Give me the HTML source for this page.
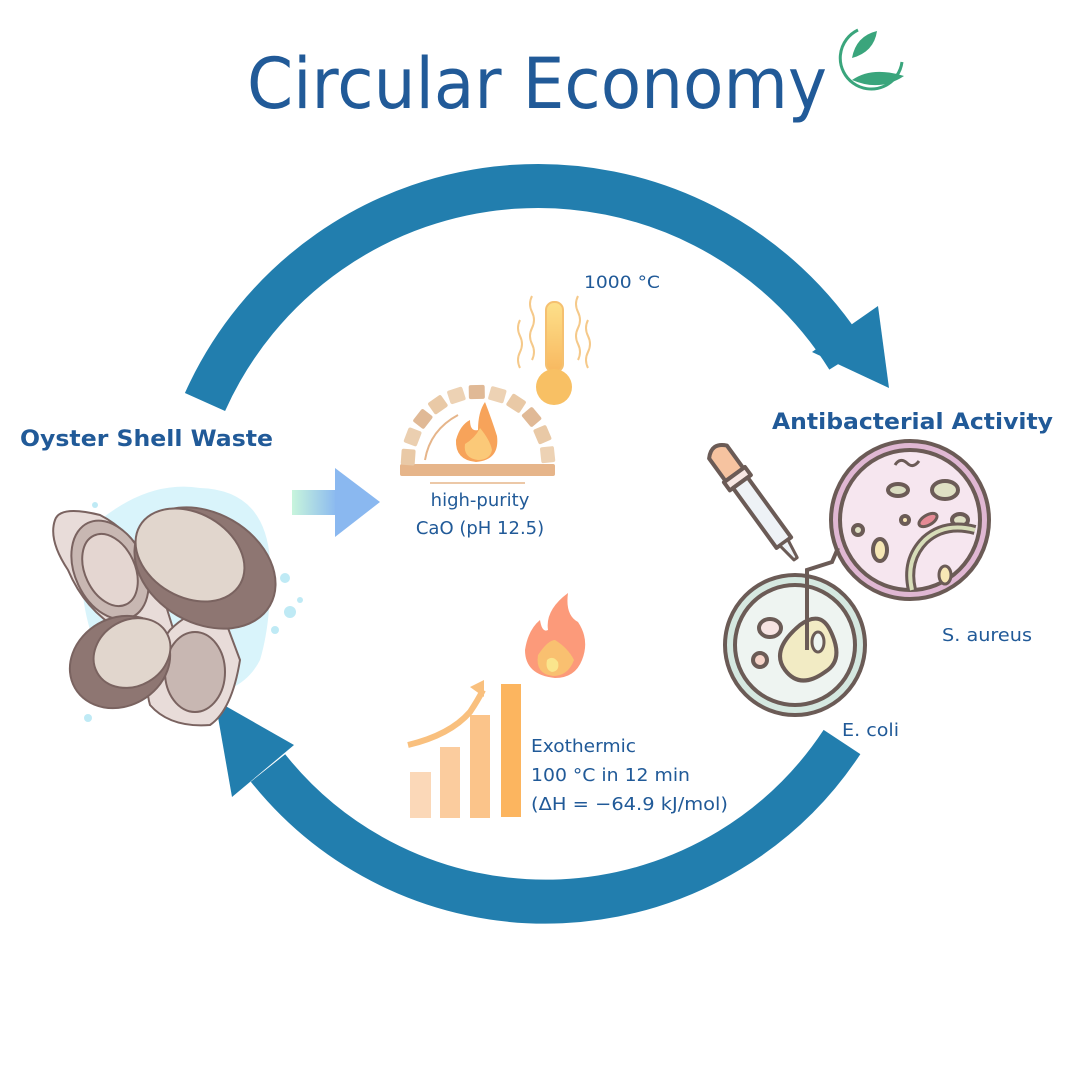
<!DOCTYPE html>
<html><head><meta charset="utf-8"><style>html,body{margin:0;padding:0;background:#fff}svg{display:block}text{font-family:"DejaVu Sans","Liberation Sans",sans-serif}</style></head>
<body>
<svg width="1080" height="1080" viewBox="0 0 1080 1080" xmlns="http://www.w3.org/2000/svg">
<defs>
<linearGradient id="ga" x1="0" x2="1"><stop offset="0" stop-color="#c8f5dc"/><stop offset="1" stop-color="#8ab8f0"/></linearGradient>
<linearGradient id="gt" x1="0" y1="0" x2="0" y2="1"><stop offset="0" stop-color="#fde08a"/><stop offset="1" stop-color="#f8b860"/></linearGradient>
</defs>
<rect width="1080" height="1080" fill="#fff"/>
<text x="537" y="108" font-size="70" fill="#215a98" text-anchor="middle" textLength="580" lengthAdjust="spacingAndGlyphs">Circular Economy</text>
<path d="M858 30 A31 31 0 1 0 902 62" fill="none" stroke="#3aa57c" stroke-width="3"/>
<path d="M852 58 Q856 36 877 31 Q874 52 852 58Z" fill="#3aa57c"/>
<path d="M852 80 Q872 66 904 76 Q880 92 852 80Z" fill="#3aa57c"/>
<g fill="none" stroke="#227eae" stroke-width="44">
<path d="M205 402 A365 365 0 0 1 848 358"/>
<path d="M842 742 A355 355 0 0 1 268 768"/>
</g>
<polygon points="889,388 812,352 878,306" fill="#227eae"/>
<polygon points="215,700 232,797 294,745" fill="#227eae"/>
<text x="20" y="446" font-size="22" font-weight="bold" fill="#215a98" textLength="253" lengthAdjust="spacingAndGlyphs">Oyster Shell Waste</text>
<text x="772" y="429" font-size="22" font-weight="bold" fill="#215a98" textLength="281" lengthAdjust="spacingAndGlyphs">Antibacterial Activity</text>
<path d="M100 520 Q150 480 200 488 Q265 490 270 560 Q272 620 260 660 Q240 700 180 695 Q110 690 90 630 Q70 560 100 520Z" fill="#d9f4fb"/>
<g stroke="#7a6360" stroke-width="2">
<path d="M55 520 Q60 505 100 515 Q130 530 155 570 L175 635 Q150 650 120 630 Q85 610 68 570 Q48 540 55 520Z" fill="#e8dcd9"/>
<ellipse cx="110" cy="570" rx="35" ry="52" transform="rotate(-25 110 570)" fill="#c8b7b2"/>
<ellipse cx="110" cy="570" rx="25" ry="38" transform="rotate(-25 110 570)" fill="#e4d6d1"/>
<path d="M170 630 Q200 600 225 620 L240 660 Q232 710 210 725 Q170 728 150 705 Q140 670 170 630Z" fill="#e8dcd9"/>
<ellipse cx="195" cy="672" rx="30" ry="40" fill="#c8b7b2"/>
<ellipse cx="205" cy="568" rx="75" ry="55" transform="rotate(30 205 568)" fill="#8e7672"/>
<ellipse cx="190" cy="555" rx="58" ry="42" transform="rotate(30 190 555)" fill="#e1d6cd"/>
<ellipse cx="120" cy="662" rx="52" ry="44" transform="rotate(-30 120 662)" fill="#8e7672"/>
<ellipse cx="132" cy="653" rx="40" ry="33" transform="rotate(-30 132 653)" fill="#e1d6cd"/>
</g>
<g fill="#bfeaf5"><circle cx="285" cy="578" r="5"/><circle cx="290" cy="612" r="6"/><circle cx="300" cy="600" r="3"/><circle cx="95" cy="505" r="3"/><circle cx="88" cy="718" r="4"/><circle cx="275" cy="630" r="4"/></g>
<rect x="292" y="490" width="45" height="25" fill="url(#ga)"/>
<polygon points="335,468 380,502 335,537" fill="#8ab8f0"/>
<rect x="400" y="464" width="155" height="12" rx="2" fill="#e6b58a"/>
<g transform="translate(478,462)">
<g fill="#e9c9a6">
<rect x="-8" y="-77" width="16" height="14" rx="2" transform="rotate(-86)"/>
<rect x="-8" y="-77" width="16" height="14" rx="2" transform="rotate(-69)" fill="#ebcfb0"/>
<rect x="-8" y="-77" width="16" height="14" rx="2" transform="rotate(-52)" fill="#e0b996"/>
<rect x="-8" y="-77" width="16" height="14" rx="2" transform="rotate(-35)"/>
<rect x="-8" y="-77" width="16" height="14" rx="2" transform="rotate(-18)" fill="#edd2b4"/>
<rect x="-8" y="-77" width="16" height="14" rx="2" transform="rotate(-1)" fill="#e0b996"/>
<rect x="-8" y="-77" width="16" height="14" rx="2" transform="rotate(16)" fill="#edd2b4"/>
<rect x="-8" y="-77" width="16" height="14" rx="2" transform="rotate(33)"/>
<rect x="-8" y="-77" width="16" height="14" rx="2" transform="rotate(50)" fill="#e0b996"/>
<rect x="-8" y="-77" width="16" height="14" rx="2" transform="rotate(67)"/>
<rect x="-8" y="-77" width="16" height="14" rx="2" transform="rotate(84)" fill="#edd2b4"/>
</g></g>
<path d="M425 460 Q430 430 458 415" fill="none" stroke="#e6b58a" stroke-width="2"/>
<path d="M476 462 Q455 460 456 440 Q460 425 470 420 Q470 432 478 430 Q478 412 485 402 Q492 420 497 436 Q500 460 476 462Z" fill="#f7a35a"/>
<path d="M478 460 Q463 458 465 444 Q475 438 480 428 Q490 440 492 450 Q490 460 478 460Z" fill="#fbc978"/>
<line x1="430" y1="483" x2="525" y2="483" stroke="#e6b58a" stroke-width="1.5"/>
<rect x="546" y="302" width="17" height="70" rx="8" fill="url(#gt)" stroke="#f5c070" stroke-width="2"/>
<circle cx="554" cy="387" r="18" fill="#f8c064"/>
<g fill="none" stroke="#f5c98a" stroke-width="2">
<path d="M532 296 q-4 8 0 16 q4 8 0 16 q-4 8 0 16 q4 8 0 16"/><path d="M520 320 q-4 8 0 16 q4 8 0 16 q-4 8 0 16"/>
<path d="M578 296 q-4 8 0 16 q4 8 0 16 q-4 8 0 16 q4 8 0 16"/><path d="M588 320 q-4 8 0 16 q4 8 0 16 q-4 8 0 16"/>
</g>
<text x="584" y="288" font-size="17" fill="#215a98" textLength="76" lengthAdjust="spacingAndGlyphs">1000 °C</text>
<text x="480" y="506" font-size="18" fill="#215a98" text-anchor="middle">high-purity</text>
<text x="480" y="534" font-size="18" fill="#215a98" text-anchor="middle">CaO (pH 12.5)</text>
<rect x="410" y="772" width="21" height="46" fill="#fbd8b8"/>
<rect x="440" y="747" width="20" height="71" fill="#fbcc9e"/>
<rect x="470" y="715" width="20" height="103" fill="#fbc48a"/>
<rect x="501" y="684" width="20" height="133" fill="#fcb55f"/>
<path d="M408 745 Q450 735 470 712 Q478 700 483 690" fill="none" stroke="#f9c07e" stroke-width="6"/>
<polygon points="470,687 484,680 484,697" fill="#f9c07e"/>
<path d="M555 678 Q525 675 525 650 Q528 630 540 620 Q542 633 548 630 Q545 610 568 593 Q565 615 578 622 Q590 640 582 660 Q575 678 555 678Z" fill="#fc9a7a"/>
<path d="M553 676 Q535 674 538 655 Q548 640 555 640 Q568 648 574 660 Q568 676 553 676Z" fill="#f9c070"/>
<path d="M552 672 Q545 670 547 660 Q553 655 558 662 Q560 671 552 672Z" fill="#fae58c"/>
<text x="531" y="752" font-size="18" fill="#215a98" textLength="105" lengthAdjust="spacingAndGlyphs">Exothermic</text>
<text x="531" y="781" font-size="18" fill="#215a98" textLength="159" lengthAdjust="spacingAndGlyphs">100 °C in 12 min</text>
<text x="531" y="810" font-size="18" fill="#215a98" textLength="197" lengthAdjust="spacingAndGlyphs">(ΔH = −64.9 kJ/mol)</text>
<g stroke="#6b5b56" stroke-width="4" stroke-linejoin="round">
<circle cx="910" cy="520" r="79" fill="#e0b7d3"/>
<circle cx="910" cy="520" r="70" fill="#f6e6ef"/>
<ellipse cx="898" cy="490" rx="10" ry="6" fill="#d9dcc0"/><ellipse cx="945" cy="490" rx="13" ry="9" fill="#dfe0c3"/>
<ellipse cx="880" cy="550" rx="7" ry="11" fill="#f7e7b5"/><ellipse cx="858" cy="530" rx="5" ry="5" fill="#dfe0c3"/>
<ellipse cx="960" cy="520" rx="8" ry="6" fill="#dfe0c3"/><ellipse cx="905" cy="520" rx="4" ry="4" fill="#f7e7b5"/>
<ellipse cx="928" cy="520" rx="10" ry="5" transform="rotate(-30 928 520)" fill="#e58a95" stroke-width="3"/>
<ellipse cx="945" cy="575" rx="6" ry="9" fill="#f7e7b5" stroke-width="3"/>
<path d="M912 590 Q905 560 925 540 Q945 522 975 530" fill="none" stroke-width="10"/>
<path d="M912 590 Q905 560 925 540 Q945 522 975 530" fill="none" stroke="#d7ddb8" stroke-width="4"/>
<path d="M895 465 q5 -8 12 -2 q6 6 12 -2" fill="none" stroke-width="3"/>
<circle cx="795" cy="645" r="70" fill="#d5e8e0"/>
<circle cx="795" cy="645" r="60" fill="#eef4f1"/>
<path d="M800 625 Q820 610 830 630 Q845 660 825 672 Q800 690 785 670 Q770 650 800 625Z" fill="#f2ebc4"/>
<ellipse cx="818" cy="642" rx="6" ry="10" fill="#eef4f1" stroke-width="3"/>
<ellipse cx="770" cy="628" rx="11" ry="9" fill="#f7e3e2"/>
<circle cx="760" cy="660" r="7" fill="#f5d3c8"/>
<g transform="translate(718,452) rotate(54)">
<path d="M0 -11 L28 -11 L28 11 L0 11 Q-12 0 0 -11Z" fill="#f6c3a0"/>
<rect x="28" y="-13" width="10" height="26" fill="#f7e7e3"/>
<path d="M38 -9 L112 -9 L112 9 L38 9 Z" fill="#eef2f6"/>
<path d="M112 -5 L132 -2 L132 2 L112 5Z" fill="#eef2f6" stroke-width="3"/>
</g>
</g>
<path d="M807 650 L807 570 L832 562 L838 548" fill="none" stroke="#6b5b56" stroke-width="4"/>
<text x="942" y="641" font-size="18" fill="#215a98" textLength="90" lengthAdjust="spacingAndGlyphs">S. aureus</text>
<text x="842" y="736" font-size="18" fill="#215a98" textLength="57" lengthAdjust="spacingAndGlyphs">E. coli</text>
</svg>
</body></html>
